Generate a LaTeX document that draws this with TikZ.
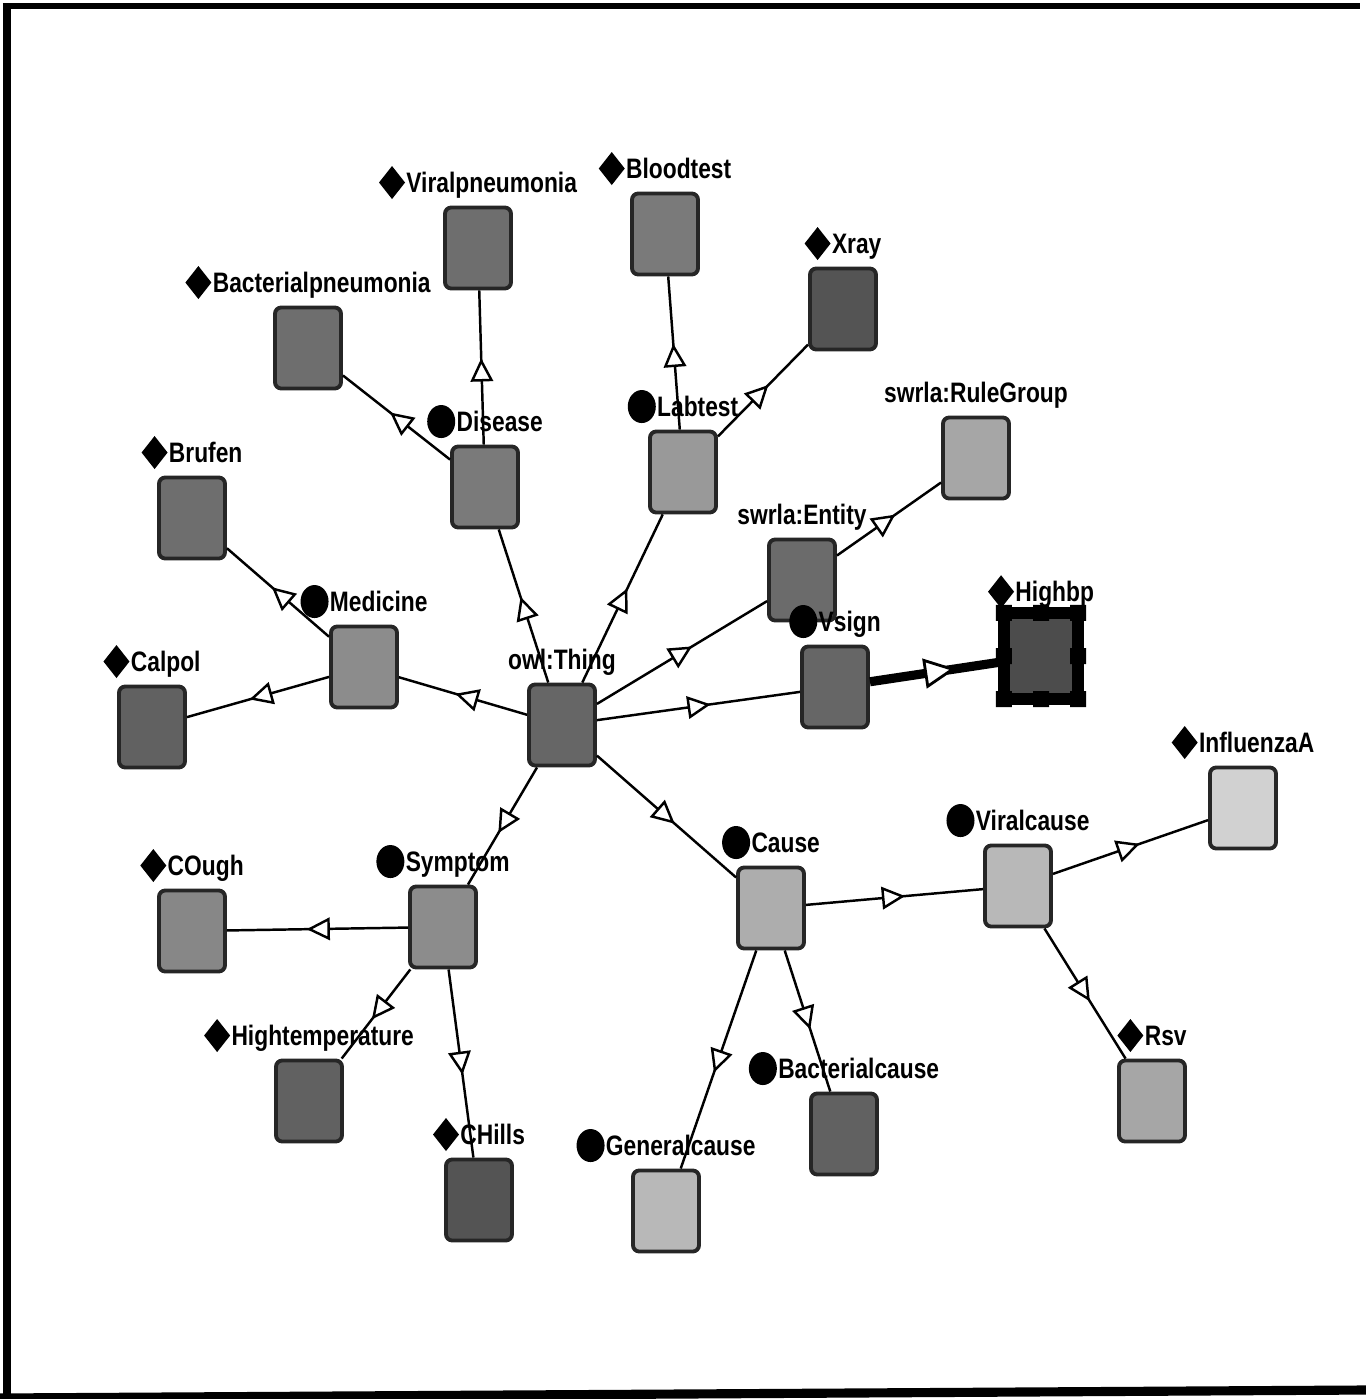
\documentclass[tikz,border=0pt]{standalone}
\usepackage{fontspec}
\setmainfont{Liberation Sans}[FakeStretch=0.81]
\usetikzlibrary{arrows.meta, positioning, decorations.markings}
\newcommand{\indmark}{%
  \tikz[x=1cm,y=1cm,baseline=0pt]{%
    \fill (0,0.1) -- (0.13,0.265) -- (0.26,0.1) -- (0.13,-0.065) -- cycle;}\hspace{0.4pt}}
\newcommand{\clsmark}{%
  \tikz[x=1cm,y=1cm,baseline=0pt]{%
    \fill (0.14,0.1) ellipse [x radius=0.14, y radius=0.165];}\hspace{0.4pt}}
\tikzset{
  cbox/.style={draw=black!85, line width=1.1pt, rounded corners=1.8pt,
    minimum width=0.66cm, minimum height=0.81cm, inner sep=0pt},
  tag/.style={font=\fontsize{8}{9}\selectfont\bfseries, inner sep=0pt,
    text depth=2pt},
  isa/.style={line width=0.7pt, postaction={decorate},
    decoration={markings, mark=at position 0.56 with
      {\arrow{Triangle[length=6.6pt, width=6.4pt, fill=white]}}}},
  selisa/.style={line width=2.6pt, postaction={decorate},
    decoration={markings, mark=at position 0.64 with
      {\arrow{Triangle[length=9pt, width=8.5pt, fill=white, line width=0.8pt]}}}},
}

\begin{document}
\begin{tikzpicture}[x=0.01cm, y=-0.01cm]
  \useasboundingbox (0,0) rectangle (1366,1399);
  % scanned frame
  \draw[line width=2.3pt] (7,1399) -- (7,3);
  \draw[line width=1.7pt] (3,6) -- (1360,6);
  \draw[line width=2.6pt] (0,1398) -- (1366,1390);

  % root
  \node[cbox, fill=black!60] (thing) at (562,725) {};
  \node[tag, above=1.5pt of thing] (thingL) {owl:Thing};

  % classes
  \node[cbox, fill=black!52] (disease) at (485,487) {};
  \node[tag, above=1.5pt of disease] (diseaseL) {\clsmark Disease};
  \node[cbox, fill=black!40] (labtest) at (683,472) {};
  \node[tag, above=1.5pt of labtest] (labtestL) {\clsmark Labtest};
  \node[cbox, fill=black!58] (entity) at (802,580) {};
  \node[tag, above=1.5pt of entity] (entityL) {swrla:Entity};
  \node[cbox, fill=black!35] (rulegrp) at (976,458) {};
  \node[tag, above=1.5pt of rulegrp] (rulegrpL) {swrla:RuleGroup};
  \node[cbox, fill=black!60] (vsign) at (835,687) {};
  \node[tag, above=1.5pt of vsign] (vsignL) {\clsmark Vsign};
  \node[cbox, fill=black!45] (medicine) at (364,667) {};
  \node[tag, above=1.5pt of medicine] (medicineL) {\clsmark Medicine};
  \node[cbox, fill=black!45] (symptom) at (443,927) {};
  \node[tag, above=1.5pt of symptom] (symptomL) {\clsmark Symptom};
  \node[cbox, fill=black!32] (cause) at (771,908) {};
  \node[tag, above=1.5pt of cause] (causeL) {\clsmark Cause};
  \node[cbox, fill=black!28] (viralc) at (1018,886) {};
  \node[tag, above=1.5pt of viralc] (viralcL) {\clsmark Viralcause};
  \node[cbox, fill=black!62] (bactc) at (844,1134) {};
  \node[tag, above=1.5pt of bactc] (bactcL) {\clsmark Bacterialcause};
  \node[cbox, fill=black!28] (genc) at (666,1211) {};
  \node[tag, above=1.5pt of genc] (gencL) {\clsmark Generalcause};

  % individuals
  \node[cbox, fill=black!57] (vpneu) at (478,248) {};
  \node[tag, above=1.5pt of vpneu] (vpneuL) {\indmark Viralpneumonia};
  \node[cbox, fill=black!57] (bpneu) at (308,348) {};
  \node[tag, above=1.5pt of bpneu] (bpneuL) {\indmark Bacterialpneumonia};
  \node[cbox, fill=black!52] (blood) at (665,234) {};
  \node[tag, above=1.5pt of blood] (bloodL) {\indmark Bloodtest};
  \node[cbox, fill=black!67] (xray) at (843,309) {};
  \node[tag, above=1.5pt of xray] (xrayL) {\indmark Xray};
  \node[cbox, fill=black!57] (brufen) at (192,518) {};
  \node[tag, above=1.5pt of brufen] (brufenL) {\indmark Brufen};
  \node[cbox, fill=black!62] (calpol) at (152,727) {};
  \node[tag, above=1.5pt of calpol] (calpolL) {\indmark Calpol};
  \node[cbox, fill=black!47] (cough) at (192,931) {};
  \node[tag, above=1.5pt of cough] (coughL) {\indmark COugh};
  \node[cbox, fill=black!62] (hightemp) at (309,1101) {};
  \node[tag, above=1.5pt of hightemp] (hightempL) {\indmark Hightemperature};
  \node[cbox, fill=black!67] (chills) at (479,1200) {};
  \node[tag, above=1.5pt of chills] (chillsL) {\indmark CHills};
  \node[cbox, fill=black!18] (influ) at (1243,808) {};
  \node[tag, above=1.5pt of influ] (influL) {\indmark InfluenzaA};
  \node[cbox, fill=black!35] (rsv) at (1152,1101) {};
  \node[tag, above=1.5pt of rsv] (rsvL) {\indmark Rsv};

  % selected individual
  \node[cbox, fill=black!70, draw=black, line width=3.4pt, rounded corners=0pt,
    outer sep=0pt, minimum width=0.74cm, minimum height=0.86cm] (highbp) at (1041,656) {};
  \fill ([shift={(-8,-8)}]highbp.north west) rectangle +(16,16)
        ([shift={(-8,-8)}]highbp.north) rectangle +(16,16)
        ([shift={(-8,-8)}]highbp.north east) rectangle +(16,16)
        ([shift={(-8,-8)}]highbp.east) rectangle +(16,16)
        ([shift={(-8,-8)}]highbp.south east) rectangle +(16,16)
        ([shift={(-8,-8)}]highbp.south) rectangle +(16,16)
        ([shift={(-8,-8)}]highbp.south west) rectangle +(16,16)
        ([shift={(-8,-8)}]highbp.west) rectangle +(16,16);
  \node[tag, above=1pt of highbp] (highbpL) {\indmark Highbp};

  % subclass / instance links
  \draw[isa] (thing) -- (disease);
  \draw[isa] (thing) -- (labtest);
  \draw[isa] (thing) -- (entity);
  \draw[isa] (thing) -- (vsign);
  \draw[isa] (thing) -- (medicine);
  \draw[isa] (thing) -- (symptom);
  \draw[isa] (thing) -- (cause);
  \draw[isa] (disease) -- (vpneu);
  \draw[isa] (disease) -- (bpneu);
  \draw[isa] (labtest) -- (blood);
  \draw[isa] (labtest) -- (xray);
  \draw[isa] (entity) -- (rulegrp);
  \draw[isa] (medicine) -- (brufen);
  \draw[isa] (medicine) -- (calpol);
  \draw[isa] (symptom) -- (cough);
  \draw[isa] (symptom) -- (hightemp);
  \draw[isa] (symptom) -- (chills);
  \draw[isa] (cause) -- (viralc);
  \draw[isa] (cause) -- (genc);
  \draw[isa] (cause) -- (bactc);
  \draw[isa] (viralc) -- (influ);
  \draw[isa] (viralc) -- (rsv);
  \draw[selisa] (vsign) -- (highbp);
\end{tikzpicture}
\end{document}
